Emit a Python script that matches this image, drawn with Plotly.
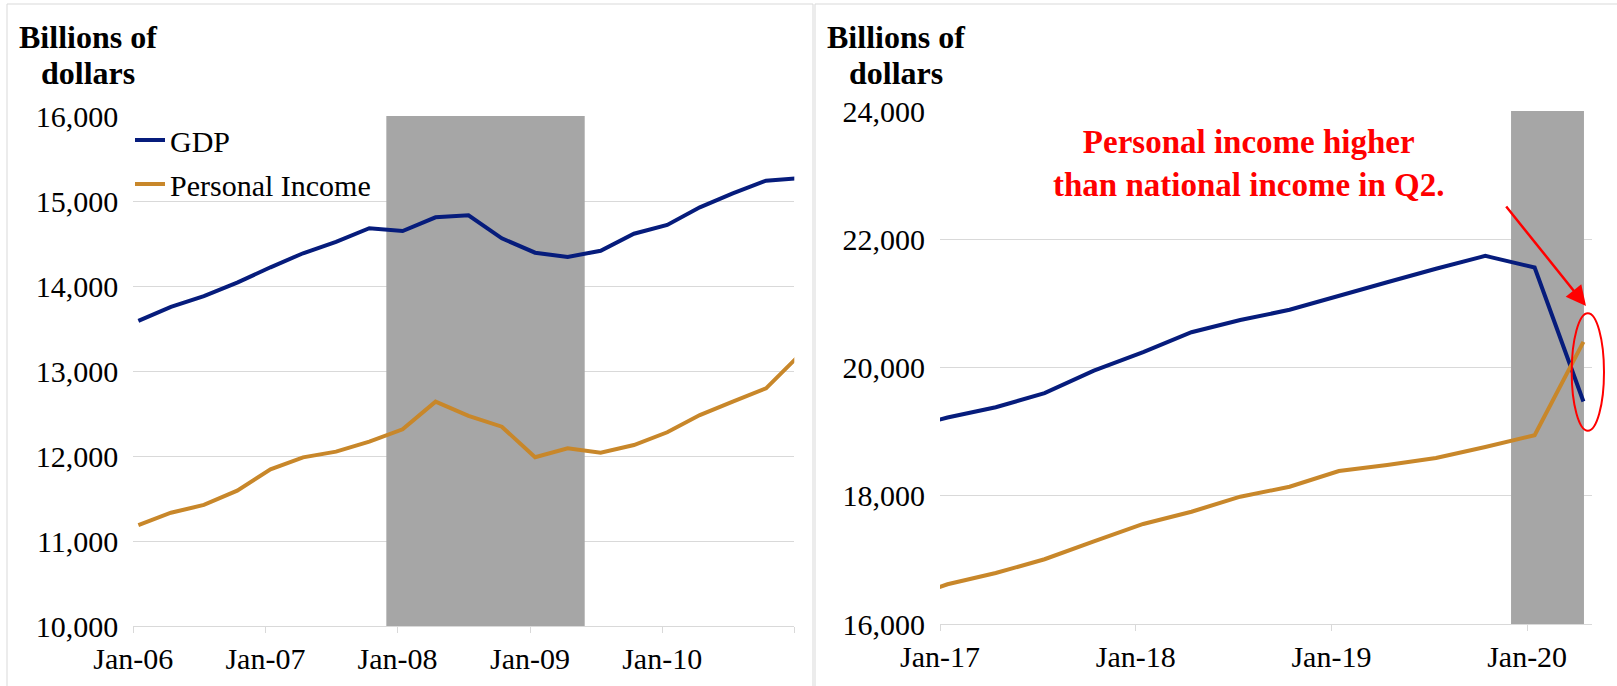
import plotly.graph_objects as go

# ---------------- data ----------------
# Left panel: 2006-2011, quarterly (points plotted mid first month of quarter)
dates_left = ["2006-01-15", "2006-04-15", "2006-07-15", "2006-10-15",
              "2007-01-15", "2007-04-15", "2007-07-15", "2007-10-15",
              "2008-01-15", "2008-04-15", "2008-07-15", "2008-10-15",
              "2009-01-15", "2009-04-15", "2009-07-15", "2009-10-15",
              "2010-01-15", "2010-04-15", "2010-07-15", "2010-10-15",
              "2011-01-15"]
gdp_left = [13590, 13755, 13880, 14040, 14220, 14385, 14520, 14680,
            14647, 14808, 14832, 14561, 14392, 14341, 14415, 14615,
            14718, 14926, 15090, 15239, 15268]
pi_left = [11188, 11333, 11424, 11592, 11843, 11984, 12051, 12169,
           12314, 12639, 12471, 12345, 11985, 12091, 12039, 12129,
           12279, 12482, 12639, 12796, 13186]

# Right panel: 2017-2020, quarterly
dates_right = ["2016-10-15",
               "2017-01-15", "2017-04-15", "2017-07-15", "2017-10-15",
               "2018-01-15", "2018-04-15", "2018-07-15", "2018-10-15",
               "2019-01-15", "2019-04-15", "2019-07-15", "2019-10-15",
               "2020-01-15", "2020-04-15"]
gdp_right = [19020, 19220, 19380, 19600, 19950, 20240, 20550, 20740,
             20900, 21110, 21330, 21540, 21740, 21560, 19470]
pi_right = [16360, 16620, 16795, 17010, 17290, 17560, 17750, 17985,
            18140, 18385, 18480, 18590, 18760, 18945, 20400]

# recessions
rec_left = ("2007-12-01", "2009-06-01")
rec_right = ("2019-12-02", "2020-04-16")

# ticks
tick_left_vals = ["2006-01-01", "2007-01-01", "2008-01-01", "2009-01-01", "2010-01-01", "2011-01-01"]
tick_left_text = ["Jan-06", "Jan-07", "Jan-08", "Jan-09", "Jan-10", ""]
tick_right_vals = ["2017-01-01", "2018-01-01", "2019-01-01", "2020-01-01"]
tick_right_text = ["Jan-17", "Jan-18", "Jan-19", "Jan-20"]

# ---------------- styling ----------------
W, H = 1617, 686
GDP_C = "#061c7c"
PI_C = "#c8872a"
SHADE = "#a6a6a6"
GRID = "#d9d9d9"
FONT = "Liberation Serif"

def px_x(p):
    return p / W

def px_y(p):
    return 1 - p / H

fig = go.Figure()

fig.add_trace(go.Scatter(x=dates_left, y=gdp_left, mode="lines", name="GDP",
                         line=dict(color=GDP_C, width=4), xaxis="x", yaxis="y",
                         legendgroup="a"))
fig.add_trace(go.Scatter(x=dates_left, y=pi_left, mode="lines", name="Personal Income",
                         line=dict(color=PI_C, width=4), xaxis="x", yaxis="y",
                         legendgroup="b"))
fig.add_trace(go.Scatter(x=dates_right, y=gdp_right, mode="lines", name="GDP",
                         line=dict(color=GDP_C, width=4), xaxis="x2", yaxis="y2",
                         showlegend=False))
fig.add_trace(go.Scatter(x=dates_right, y=pi_right, mode="lines", name="Personal Income",
                         line=dict(color=PI_C, width=4), xaxis="x2", yaxis="y2",
                         showlegend=False))

tickfont = dict(family=FONT, size=30, color="#000000")

xcommon = dict(type="date", showgrid=False, zeroline=False, showline=True,
               linecolor=GRID, linewidth=1, ticks="outside", ticklen=6,
               tickcolor=GRID, tickwidth=1, tickfont=tickfont,
               ticklabelstandoff=0, fixedrange=True)
ycommon = dict(showgrid=True, gridcolor=GRID, gridwidth=1, zeroline=False,
               showline=False, ticks="", tickfont=tickfont, tickformat=",d",
               ticklabelstandoff=14, fixedrange=True)

fig.update_layout(
    width=W, height=H,
    margin=dict(l=0, r=0, t=0, b=0, autoexpand=False),
    paper_bgcolor="white", plot_bgcolor="white",
    showlegend=True,
    legend=dict(x=px_x(130), y=px_y(114), xanchor="left", yanchor="top",
                font=dict(family=FONT, size=30, color="#000000"),
                bgcolor="rgba(0,0,0,0)", tracegroupgap=2, itemwidth=30),
    xaxis=dict(xcommon, domain=[px_x(133.3), px_x(794.3)],
               range=["2006-01-01", "2011-01-01"],
               tickvals=tick_left_vals, ticktext=tick_left_text, anchor="y"),
    yaxis=dict(ycommon, domain=[px_y(626), px_y(116)], range=[10000, 16000],
               dtick=1000, anchor="x"),
    xaxis2=dict(xcommon, domain=[px_x(940), px_x(1592)],
                range=["2017-01-01", "2020-05-01"],
                tickvals=tick_right_vals, ticktext=tick_right_text, anchor="y2"),
    yaxis2=dict(ycommon, domain=[px_y(624), px_y(111)], range=[16000, 24000],
                dtick=2000, anchor="x2"),
)

# recession shading
fig.add_shape(type="rect", xref="x", yref="y", x0=rec_left[0], x1=rec_left[1],
              y0=10000, y1=16000, fillcolor=SHADE, line=dict(width=0), layer="between")
fig.add_shape(type="rect", xref="x2", yref="y2", x0=rec_right[0], x1=rec_right[1],
              y0=16000, y1=24000, fillcolor=SHADE, line=dict(width=0), layer="between")

# panel borders
fig.add_shape(type="rect", xref="paper", yref="paper", x0=px_x(7), x1=px_x(813),
              y0=px_y(700), y1=px_y(4), line=dict(color=GRID, width=1), layer="below")
fig.add_shape(type="rect", xref="paper", yref="paper", x0=px_x(815), x1=px_x(1630),
              y0=px_y(700), y1=px_y(4), line=dict(color=GRID, width=1), layer="below")

# axis titles
for cx in (88, 896):
    fig.add_annotation(text="<b>Billions of</b>", x=px_x(cx), y=px_y(37), xref="paper", yref="paper",
                       xanchor="center", yanchor="middle", showarrow=False,
                       font=dict(family=FONT, size=32, color="#000000"))
    fig.add_annotation(text="<b>dollars</b>", x=px_x(cx), y=px_y(73), xref="paper", yref="paper",
                       xanchor="center", yanchor="middle", showarrow=False,
                       font=dict(family=FONT, size=32, color="#000000"))

# red note
fig.add_annotation(text="<b>Personal income higher<br>than national income in Q2.</b>",
                   x=px_x(1248), y=px_y(163), xref="paper", yref="paper",
                   xanchor="center", yanchor="middle", showarrow=False, align="center",
                   font=dict(family=FONT, size=33, color="#ff0000"))
# arrow
fig.add_annotation(text="", x=px_x(1586), y=px_y(306), xref="paper", yref="paper",
                   ax=-81, ay=-101, showarrow=True, arrowhead=2, arrowsize=1.6,
                   arrowwidth=2.5, arrowcolor="#ff0000")
# ellipse
fig.add_shape(type="circle", xref="paper", yref="paper",
              x0=px_x(1571.7), x1=px_x(1604), y0=px_y(430.7), y1=px_y(313.3),
              line=dict(color="#ff0000", width=2), layer="above")

fig.write_html("out.html", config={"displayModeBar": False})
